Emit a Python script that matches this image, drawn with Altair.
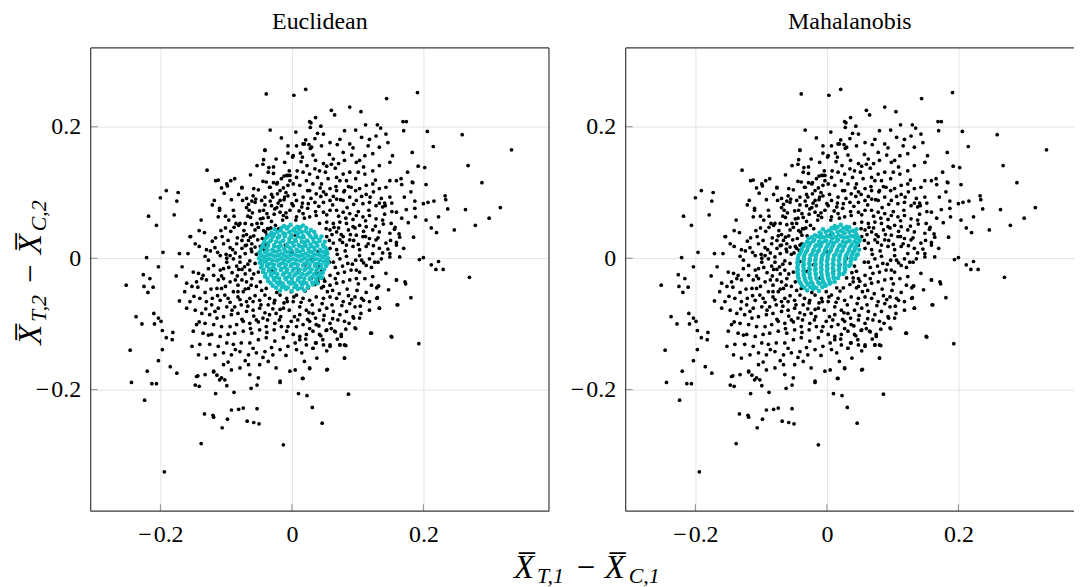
import altair as alt
import pandas as pd

# ---------------- data ----------------
tick_values = [-0.2, 0.0, 0.2]
panel_titles = ["Euclidean", "Mahalanobis"]

black_pts = [
    (-0.039,0.250),(0.003,0.248),(0.021,0.257),(-0.033,0.195),(0.036,0.214),(0.027,0.208),(0.028,0.199),
    (0.006,0.192),(-0.041,0.165),(-0.006,0.171),(-0.044,0.143),(-0.035,0.138),(-0.028,0.139),(-0.129,0.134),
    (-0.116,0.118),(-0.112,0.119),(-0.093,0.118),(-0.099,0.113),(-0.098,0.110),(-0.191,0.103),(-0.200,0.092),
    (-0.173,0.100),(-0.175,0.087),(-0.218,0.064),(-0.206,0.050),(-0.179,0.066),(-0.221,0.001),(-0.203,-0.013),
    (-0.196,0.009),(-0.171,0.007),(-0.155,0.033),(-0.141,0.042),(-0.133,0.039),(-0.147,0.022),(-0.118,0.088),
    (-0.110,0.076),(-0.112,0.063),(-0.103,0.099),(-0.088,0.064),(-0.076,0.108),(-0.075,0.088),(-0.058,0.106),
    (-0.044,0.117),(-0.034,0.108),(-0.028,0.115),(-0.022,0.115),(-0.012,0.125),(-0.006,0.126),(-0.003,0.126),
    (0.001,0.154),(0.013,0.160),(0.016,0.154),(0.014,0.147),(0.019,0.174),(0.026,0.173),(0.028,0.167),
    (0.035,0.182),(0.032,0.157),
    (0.144,0.243),(0.191,0.252),(0.060,0.225),(0.065,0.218),(0.088,0.230),(0.105,0.223),(0.029,0.206),
    (0.039,0.190),(0.048,0.189),(0.080,0.194),(0.097,0.195),(0.112,0.203),(0.130,0.203),(0.135,0.198),
    (0.169,0.208),(0.174,0.208),(0.170,0.194),(0.206,0.193),(0.259,0.188),(0.334,0.165),(0.215,0.170),
    (0.183,0.161),(0.192,0.140),(0.202,0.138),(0.268,0.141),(0.289,0.115),(0.184,0.115),(0.204,0.112),
    (0.233,0.095),(0.234,0.089),(0.216,0.087),(0.237,0.075),(0.207,0.085),(0.200,0.083),(0.317,0.077),
    (0.300,0.061),(0.279,0.050),(0.264,0.074),(0.247,0.043),(0.223,0.063),(0.212,0.046),(0.220,0.039),
    (0.204,0.058),(0.187,0.087),(0.187,0.076),(0.188,0.063),(0.174,0.074),(0.177,0.054),(0.185,0.032),
    (0.194,-0.002),(0.200,0.001),(0.212,-0.010),(0.223,-0.005),(0.230,-0.017),(0.219,-0.017),(0.270,-0.029),
    (0.166,0.121),(0.167,0.112),(0.183,0.116),(0.149,0.118),(0.141,0.084),(0.142,0.080),(0.152,0.071),
    (0.156,0.044),(0.163,0.037),(0.159,0.024),(0.170,0.015),(0.150,0.027),(0.157,0.047),
    (-0.226,-0.025),(-0.216,-0.031),(-0.225,-0.043),(-0.211,-0.044),(-0.219,-0.052),(-0.252,-0.041),
    (-0.176,-0.027),(-0.171,-0.065),(-0.237,-0.089),(-0.228,-0.100),(-0.210,-0.084),(-0.203,-0.091),
    (-0.199,-0.096),(-0.209,-0.100),(-0.197,-0.110),(-0.246,-0.140),(-0.244,-0.189),(-0.213,-0.191),
    (-0.206,-0.191),(-0.224,-0.216),(-0.220,-0.172),(-0.203,-0.156),(-0.197,-0.139),(-0.191,-0.121),
    (-0.182,-0.124),(-0.181,-0.113),(-0.185,-0.165),(-0.175,-0.175),(-0.194,-0.325),(-0.138,-0.282),
    (-0.013,-0.284),(-0.133,-0.237),(-0.120,-0.239),(-0.119,-0.242),(-0.098,-0.245),(-0.106,-0.258),
    (-0.092,-0.231),(-0.081,-0.230),(-0.074,-0.228),(-0.053,-0.229),(-0.068,-0.248),(-0.058,-0.250),
    (-0.050,-0.252),(-0.116,-0.206),(-0.088,-0.204),(-0.062,-0.198),(-0.053,-0.193),(-0.147,-0.193),
    (-0.141,-0.195),(-0.143,-0.179),(-0.119,-0.173),(-0.114,-0.178),(-0.110,-0.185),(-0.102,-0.185),
    (-0.099,-0.194),(-0.018,-0.189),(0.010,-0.206),(0.023,-0.209),(0.031,-0.227),(0.016,-0.183),
    (0.027,-0.168),
    (0.193,-0.130),(0.152,-0.120),(0.120,-0.114),(0.160,-0.071),(0.133,-0.076),(0.130,-0.060),(0.181,-0.060),
    (0.159,-0.033),(0.172,-0.036),(0.173,-0.039),(0.129,-0.045),(0.132,-0.042),(0.086,-0.207),(0.046,-0.251),
    (0.054,-0.169),(0.080,-0.152),(0.082,-0.133),(0.073,-0.132),(0.058,-0.134),(0.097,-0.107),(0.082,-0.108),
    (0.105,-0.084),(0.094,-0.091),(0.075,-0.119),(0.066,-0.112),(0.060,-0.107),(0.052,-0.110),(0.047,-0.124),
    (0.044,-0.118),(0.036,-0.129),(0.032,-0.137),(0.021,-0.123),
    (-0.110,0.073),(-0.092,0.089),(-0.076,0.107),(-0.085,0.053),(-0.079,0.053),(-0.081,0.050),(-0.101,0.046),
    (-0.108,0.042),(-0.106,0.033),(-0.154,0.033),(-0.130,0.013),(-0.124,0.011),(-0.117,0.016),(-0.113,0.009),
    (-0.132,0.003),(-0.100,0.006),(-0.094,0.016),(-0.090,0.013),(-0.086,0.008),(-0.099,0.000),
    (-0.073,0.042),(-0.069,0.036),(-0.063,0.032),(-0.066,0.027),(-0.061,0.022),(-0.076,0.027),(-0.056,0.043),
    (-0.051,0.047),(-0.071,0.053),(-0.067,0.064),(-0.063,0.062),(-0.060,0.069),(-0.065,0.073),(-0.069,0.077),
    (-0.066,0.082),(-0.061,0.087),(-0.056,0.085),(-0.055,0.090),(-0.059,0.095),(-0.046,0.088),(-0.041,0.093),
    (-0.043,0.073),(-0.038,0.068),(-0.036,0.062),(-0.048,0.060),(-0.053,0.053),(-0.046,0.053),(-0.043,0.042),
    (-0.037,0.045),(-0.038,0.035),
    (-0.033,0.087),(-0.029,0.093),(-0.022,0.098),(-0.018,0.103),(-0.013,0.107),(-0.009,0.100),(-0.006,0.111),
    (-0.003,0.118),(-0.008,0.126),(-0.004,0.133),(-0.011,0.146),(-0.028,0.129),(-0.036,0.131),(-0.043,0.150),
    (-0.041,0.164),(-0.006,0.160),(0.002,0.156),(-0.023,0.113),(-0.033,0.108),(-0.039,0.116),(-0.031,0.080),
    (-0.023,0.077),(-0.018,0.070),(-0.013,0.065),(-0.008,0.062),(-0.003,0.073),(0.000,0.083),(-0.018,0.088),
    (-0.016,0.080),(-0.011,0.093),(-0.006,0.095),
    (-0.079,0.002),(-0.071,0.007),(-0.061,0.010),(-0.054,0.006),(-0.046,0.015),(-0.041,0.020),(-0.056,0.017),
    (-0.069,0.020),(-0.084,0.022),(-0.076,0.015),
    (0.017,0.174),(0.021,0.180),(0.007,0.171),(0.030,0.169),(0.045,0.171),(0.058,0.176),(0.073,0.181),
    (0.088,0.174),(0.093,0.168),(0.106,0.184),(0.118,0.181),(0.128,0.186),(0.143,0.189),(0.146,0.176),
    (0.133,0.169),(0.123,0.159),(0.111,0.156),(0.098,0.146),(0.103,0.149),(0.078,0.161),(0.080,0.149),
    (0.063,0.151),(0.048,0.144),(0.053,0.140),(0.060,0.143),(0.035,0.136),(0.027,0.128),(0.042,0.133),
    (0.017,0.131),(0.007,0.123),(0.002,0.113),(0.012,0.111),(0.022,0.118),(0.032,0.113),(0.045,0.113),
    (0.055,0.121),(0.068,0.123),(0.073,0.118),(0.078,0.128),(0.088,0.131),(0.101,0.131),(0.111,0.128),
    (0.123,0.133),(0.133,0.141),(0.149,0.146),(0.159,0.118),(0.143,0.108),(0.133,0.106),(0.123,0.113),
    (0.113,0.111),(0.103,0.106),(0.090,0.108),(0.080,0.103),(0.068,0.103),(0.058,0.106),(0.048,0.101),
    (0.037,0.098),(0.027,0.103),(0.017,0.093),(0.007,0.088),(0.002,0.080),(0.015,0.078),(0.025,0.083),
    (0.035,0.085),(0.048,0.085),(0.058,0.088),(0.068,0.090),(0.078,0.088),(0.088,0.093),(0.098,0.088),
    (0.108,0.083),(0.118,0.085),(0.128,0.080),(0.138,0.078),(0.149,0.093),(0.159,0.070),(0.151,0.053),
    (0.138,0.058),(0.128,0.060),(0.118,0.065),(0.108,0.063),(0.098,0.065),(0.088,0.068),(0.078,0.070),
    (0.068,0.073),(0.058,0.073),(0.048,0.070),(0.037,0.065),(0.027,0.063),(0.017,0.068),(0.007,0.063),
    (0.042,0.053),(0.053,0.055),(0.063,0.053),(0.073,0.055),(0.083,0.053),(0.093,0.048),(0.103,0.050),
    (0.113,0.048),(0.123,0.043),(0.133,0.040),(0.149,0.038),(0.164,0.032),(0.159,0.020),(0.143,0.023),
    (0.128,0.028),(0.118,0.030),(0.108,0.033),(0.098,0.035),(0.088,0.028),(0.078,0.033),(0.068,0.040),
    (0.058,0.043),(0.053,0.033),(0.063,0.023),(0.073,0.028),(0.083,0.020),(0.093,0.018),(0.103,0.013),
    (0.113,0.018),(0.123,0.007),(0.133,0.015),(0.149,0.007),(0.164,0.002),(0.068,0.013),(0.058,0.015),
    (0.048,0.020),
    (-0.150,-0.021),(-0.142,-0.023),(-0.135,-0.026),(-0.160,-0.038),(-0.152,-0.043),(-0.145,-0.036),
    (-0.137,-0.031),(-0.130,-0.033),(-0.119,-0.026),(-0.127,-0.016),(-0.119,-0.011),(-0.109,-0.018),
    (-0.104,-0.016),(-0.099,-0.006),(-0.089,-0.001),(-0.079,-0.006),(-0.072,-0.013),(-0.064,-0.018),
    (-0.056,-0.008),(-0.051,-0.021),(-0.061,-0.031),(-0.069,-0.036),(-0.082,-0.041),(-0.094,-0.036),
    (-0.104,-0.031),(-0.112,-0.033),(-0.107,-0.046),(-0.102,-0.056),(-0.109,-0.064),(-0.097,-0.061),
    (-0.089,-0.051),(-0.082,-0.059),(-0.074,-0.051),(-0.066,-0.046),(-0.054,-0.043),(-0.046,-0.049),
    (-0.039,-0.046),(-0.041,-0.056),(-0.049,-0.064),(-0.059,-0.066),(-0.069,-0.066),(-0.077,-0.071),
    (-0.087,-0.074),(-0.099,-0.074),(-0.112,-0.076),(-0.122,-0.071),(-0.130,-0.066),(-0.140,-0.061),
    (-0.155,-0.066),(-0.160,-0.076),(-0.147,-0.079),(-0.137,-0.084),(-0.125,-0.086),(-0.114,-0.091),
    (-0.104,-0.089),(-0.092,-0.086),(-0.082,-0.084),(-0.069,-0.081),(-0.059,-0.079),(-0.049,-0.076),
    (-0.036,-0.071),(-0.026,-0.064),(-0.018,-0.056),(-0.008,-0.061),(-0.001,-0.051),(-0.013,-0.076),
    (-0.024,-0.084),(-0.034,-0.086),(-0.044,-0.091),(-0.054,-0.094),(-0.064,-0.099),(-0.074,-0.096),
    (-0.084,-0.101),(-0.094,-0.104),(-0.107,-0.104),(-0.119,-0.101),(-0.132,-0.099),(-0.145,-0.101),
    (-0.150,-0.111),(-0.135,-0.114),(-0.122,-0.116),(-0.109,-0.119),(-0.097,-0.116),(-0.087,-0.114),
    (-0.074,-0.111),(-0.061,-0.114),(-0.049,-0.109),(-0.039,-0.104),(-0.026,-0.099),(-0.016,-0.104),
    (-0.008,-0.111),(-0.001,-0.096),(-0.013,-0.121),(-0.026,-0.126),(-0.039,-0.121),(-0.051,-0.124),
    (-0.064,-0.129),(-0.077,-0.129),(-0.089,-0.131),(-0.099,-0.129),(-0.112,-0.134),(-0.125,-0.131),
    (-0.140,-0.131),(-0.152,-0.134),(-0.142,-0.147),(-0.130,-0.152),(-0.117,-0.147),(-0.104,-0.144),
    (-0.092,-0.147),(-0.079,-0.142),(-0.066,-0.147),(-0.054,-0.144),(-0.041,-0.142),(-0.029,-0.147),
    (-0.018,-0.139),(-0.006,-0.134),(-0.036,-0.157),(-0.049,-0.162),(-0.066,-0.162),(-0.079,-0.167),
    (-0.092,-0.170),(-0.104,-0.162),(-0.119,-0.172),(-0.132,-0.177),(-0.145,-0.180),(-0.107,-0.182),
    (-0.064,-0.177),(-0.051,-0.182),(-0.018,-0.187),(-0.003,-0.172),(-0.024,-0.167),
    (0.063,-0.006),(0.073,-0.001),(0.085,-0.008),(0.098,-0.018),(0.106,-0.003),(0.118,-0.001),(0.126,-0.006),
    (0.136,-0.001),(0.149,0.002),(0.113,-0.011),(0.103,-0.021),(0.090,-0.018),(0.080,-0.021),(0.070,-0.023),
    (0.058,-0.026),(0.048,-0.031),(0.040,-0.036),(0.048,-0.043),(0.058,-0.041),(0.068,-0.038),(0.078,-0.036),
    (0.088,-0.033),(0.098,-0.031),(0.111,-0.031),(0.123,-0.028),(0.131,-0.043),(0.143,-0.023),(0.159,-0.033),
    (0.129,-0.061),(0.133,-0.076),(0.161,-0.071),(0.118,-0.066),(0.106,-0.061),(0.096,-0.059),(0.088,-0.069),
    (0.078,-0.066),(0.068,-0.061),(0.058,-0.059),(0.048,-0.061),(0.037,-0.059),(0.027,-0.064),(0.017,-0.061),
    (0.007,-0.056),(0.002,-0.066),(0.012,-0.074),(0.022,-0.079),(0.032,-0.084),(0.042,-0.079),(0.053,-0.076),
    (0.063,-0.081),(0.073,-0.086),(0.083,-0.081),(0.096,-0.074),(0.103,-0.091),(0.093,-0.089),(0.080,-0.096),
    (0.070,-0.094),(0.058,-0.099),(0.048,-0.094),(0.037,-0.101),(0.027,-0.096),(0.017,-0.101),(0.007,-0.104),
    (0.002,-0.116),(0.012,-0.119),(0.022,-0.116),(0.032,-0.111),(0.042,-0.116),(0.053,-0.109),(0.065,-0.111),
    (0.075,-0.116),(0.096,-0.106),(0.121,-0.114),(0.151,-0.119),(0.058,-0.132),(0.048,-0.132),(0.037,-0.129),
    (0.032,-0.137),(0.022,-0.132),(0.012,-0.124),(0.005,-0.129),(0.007,-0.139),(0.015,-0.144),(0.073,-0.132),
    (0.080,-0.132),(0.080,-0.152),(0.027,-0.167),(0.053,-0.170),(0.005,-0.170),(0.017,-0.183),
    (-0.040,0.040),(-0.032,0.046),(-0.045,0.030),(-0.025,0.050),(-0.038,0.022),(-0.048,0.018),(-0.030,0.034),
    (-0.050,0.008),(-0.042,0.012),(-0.020,0.045),(-0.035,0.045),(0.040,-0.030),(0.045,-0.020),(0.035,-0.040),
    (0.050,-0.035),(0.025,-0.045),(0.030,-0.030),(0.045,-0.045),(0.020,-0.050),(0.042,-0.012),(0.038,-0.022),
    (0.015,-0.045),(0.000,0.010),(-0.020,-0.010),(0.020,0.020),(0.010,-0.020),(-0.010,0.020),(0.030,0.000),
    (-0.030,-0.020),(0.020,-0.010),(-0.010,-0.030),(0.005,0.035),(-0.040,-0.005),(0.040,0.010),
    (-0.083,0.031),(-0.071,0.019),(-0.097,0.027),(-0.058,0.034),(-0.049,0.072),(-0.027,0.067),(-0.014,0.058),
    (-0.021,0.084),(-0.031,0.097),(-0.012,0.089),(0.004,0.097),(0.011,0.072),(0.024,0.076),(0.019,0.061),
    (0.036,0.071),(0.044,0.094),(0.053,0.066),(0.062,0.081),(0.071,0.064),(0.084,0.077),(0.093,0.059),
    (0.101,0.071),(0.112,0.057),(0.119,0.093),(0.127,0.049),(0.109,0.041),(0.086,0.043),(0.075,0.036),
    (0.064,0.047),(0.057,0.027),(0.069,0.006),(0.081,0.011),(0.094,0.027),(0.103,0.004),(0.116,0.022),
    (0.131,0.031),(0.139,0.052),(0.121,-0.014),(0.092,-0.009),(0.077,-0.012),(0.066,-0.031),(0.084,-0.047),
    (0.101,-0.039),(0.113,-0.052),(0.091,-0.063),(0.072,-0.054),(0.061,-0.071),(0.049,-0.087),(0.031,-0.071),
    (0.024,-0.093),(0.012,-0.086),(-0.004,-0.079),(-0.017,-0.089),(-0.029,-0.077),(-0.041,-0.083),
    (-0.034,-0.061),(-0.023,-0.052),(-0.012,-0.068),(0.003,-0.059),(-0.056,-0.057),(-0.067,-0.073),
    (-0.079,-0.063),(-0.091,-0.079),(-0.076,-0.093),(-0.063,-0.107),(-0.051,-0.097),(-0.038,-0.113),
    (-0.027,-0.109),(-0.019,-0.094),(-0.006,-0.104),(0.009,-0.094),(0.027,-0.107),(0.041,-0.103),
    (0.062,-0.092),(-0.101,-0.043),(-0.113,-0.057),(-0.123,-0.047),(-0.117,-0.081),(-0.131,-0.077),
    (-0.091,-0.022),(-0.083,-0.027),(-0.071,-0.024),(-0.064,-0.004),(-0.076,-0.017),(-0.109,0.004),
    (-0.121,0.026),(-0.093,0.041),(-0.061,0.051),(-0.089,0.073),(-0.101,0.064),(-0.069,0.091),(-0.081,0.097),
    (-0.051,0.104),(-0.041,0.081),(-0.016,0.121),(0.008,0.133),(0.023,0.141),(0.039,0.123),(0.051,0.131),
    (0.066,0.137),(0.083,0.118),(0.097,0.121),(0.109,0.139),(0.091,0.157),(0.071,0.144),(0.057,0.158),
    (0.036,0.149),(0.024,0.103),(0.043,0.107),(0.063,0.094),(0.079,0.101),(0.097,0.103),(0.113,0.097),
    (0.127,0.119),(0.136,0.091),(0.141,0.067),(0.152,0.084),(0.167,0.061),(0.146,0.014),(0.131,-0.006),
    (0.147,-0.048),(0.118,-0.079),(0.104,-0.073),(0.087,-0.099),(0.069,-0.123),(0.053,-0.141),(0.038,-0.152),
    (0.019,-0.157),(-0.009,-0.148),(-0.031,-0.136),(-0.044,-0.151),(-0.059,-0.137),(-0.071,-0.156),
    (-0.086,-0.139),(-0.097,-0.158),(-0.127,-0.117),(-0.141,-0.097),(-0.149,-0.058),(-0.163,-0.051),
    (-0.167,-0.013),(-0.158,0.007),(-0.141,0.018),(-0.127,-0.003),(-0.138,0.058),(-0.121,0.081),
    (-0.107,0.107),(-0.087,0.121),(-0.063,0.127),(-0.053,0.141),(-0.024,0.151),(-0.016,0.183),(0.044,0.201),
    (0.069,0.173),(0.116,0.171),(0.153,0.156),(0.176,0.131),(0.171,0.093),(0.181,0.101),
    (-0.062,0.014),(-0.074,0.034),(-0.088,0.047),(-0.096,0.058),(-0.052,0.028),(-0.044,0.061),(-0.031,0.056),
    (-0.026,0.075),(-0.009,0.069),(0.006,0.058),(0.016,0.084),(0.029,0.091),(0.041,0.079),(0.052,0.097),
    (0.067,0.109),(0.074,0.089),(0.086,0.109),(0.094,0.082),(0.106,0.094),(0.117,0.073),(0.124,0.101),
    (0.133,0.084),(0.096,0.046),(0.082,0.061),(0.071,0.046),(0.061,0.036),(0.052,0.045),(0.077,0.024),
    (0.089,0.036),(0.101,0.021),(0.112,0.033),(0.124,0.019),(0.138,0.008),(0.109,-0.007),(0.097,-0.003),
    (0.083,0.003),(0.066,-0.014),(0.057,-0.006),(0.062,-0.049),(0.054,-0.051),(0.076,-0.072),(0.086,-0.057),
    (0.099,-0.049),(0.109,-0.064),(0.121,-0.041),(0.036,-0.091),(0.046,-0.069),(0.026,-0.083),(0.014,-0.067),
    (0.004,-0.089),(-0.007,-0.066),(-0.018,-0.078),(-0.027,-0.068),(-0.037,-0.094),(-0.047,-0.071),
    (-0.058,-0.088),(-0.064,-0.061),(-0.071,-0.047),(-0.082,-0.051),(-0.094,-0.067),(-0.086,-0.033),
    (-0.076,-0.033),(-0.058,-0.024),(-0.062,-0.041),(-0.048,-0.036),(-0.067,-0.009),(-0.084,-0.012),
    (-0.096,-0.014),(-0.107,-0.027),(-0.114,-0.046),(-0.121,-0.061),(-0.132,-0.052),(-0.143,-0.044),
    (-0.116,0.031),(-0.104,0.022),(-0.094,0.004),(-0.081,-0.017),
]

euclid_pts = [
    (-0.012,0.049),(-0.002,0.051),(0.008,0.048),(0.017,0.050),
    (-0.026,0.044),(-0.017,0.042),(-0.008,0.045),(0.001,0.042),(0.011,0.044),(0.021,0.041),(0.029,0.043),
    (-0.035,0.035),(-0.027,0.037),(-0.019,0.034),(-0.010,0.037),(-0.001,0.035),(0.009,0.038),(0.017,0.034),
    (0.026,0.037),(0.036,0.035),
    (-0.040,0.030),(-0.031,0.028),(-0.022,0.031),(-0.013,0.027),(-0.004,0.030),(0.005,0.028),(0.014,0.031),
    (0.023,0.027),(0.032,0.030),(0.042,0.028),
    (-0.044,0.021),(-0.036,0.023),(-0.027,0.020),(-0.018,0.024),(-0.008,0.021),(0.001,0.023),(0.010,0.020),
    (0.019,0.024),(0.028,0.021),(0.037,0.023),(0.047,0.020),
    (-0.047,0.014),(-0.039,0.016),(-0.030,0.013),(-0.021,0.017),(-0.012,0.014),(-0.003,0.016),(0.007,0.013),
    (0.016,0.017),(0.025,0.014),(0.034,0.016),(0.043,0.013),(0.051,0.016),
    (-0.049,0.007),(-0.041,0.009),(-0.033,0.006),(-0.024,0.010),(-0.015,0.007),(-0.006,0.009),(0.003,0.006),
    (0.012,0.010),(0.021,0.007),(0.030,0.009),(0.039,0.006),(0.048,0.009),(0.054,0.007),
    (-0.050,0.000),(-0.042,0.002),(-0.034,-0.001),(-0.025,0.003),(-0.016,0.000),(-0.007,0.002),(0.002,-0.001),
    (0.011,0.003),(0.020,0.000),(0.029,0.002),(0.038,-0.001),(0.047,0.002),(0.055,0.000),
    (-0.049,-0.007),(-0.041,-0.005),(-0.032,-0.008),(-0.023,-0.004),(-0.014,-0.007),(-0.005,-0.005),
    (0.004,-0.008),(0.013,-0.004),(0.022,-0.007),(0.031,-0.005),(0.040,-0.008),(0.049,-0.005),(0.055,-0.007),
    (-0.047,-0.014),(-0.038,-0.012),(-0.029,-0.015),(-0.020,-0.011),(-0.011,-0.014),(-0.002,-0.012),
    (0.008,-0.015),(0.017,-0.011),(0.026,-0.014),(0.035,-0.012),(0.044,-0.015),(0.052,-0.012),
    (-0.044,-0.021),(-0.035,-0.019),(-0.026,-0.022),(-0.017,-0.018),(-0.008,-0.021),(0.001,-0.019),
    (0.010,-0.022),(0.019,-0.018),(0.028,-0.021),(0.037,-0.019),(0.047,-0.022),
    (-0.041,-0.028),(-0.032,-0.026),(-0.023,-0.029),(-0.014,-0.025),(-0.005,-0.028),(0.004,-0.026),
    (0.013,-0.029),(0.022,-0.025),(0.031,-0.028),(0.040,-0.026),(0.046,-0.029),
    (-0.036,-0.035),(-0.027,-0.033),(-0.018,-0.036),(-0.009,-0.032),(0.000,-0.035),(0.009,-0.033),
    (0.018,-0.036),(0.027,-0.032),(0.037,-0.035),
    (-0.029,-0.042),(-0.020,-0.040),(-0.011,-0.043),(-0.002,-0.039),(0.007,-0.042),(0.016,-0.040),
    (0.025,-0.043),(0.032,-0.040),
    (-0.018,-0.049),(-0.009,-0.047),(0.000,-0.050),(0.009,-0.047),(0.019,-0.049),
    (-0.016,0.046),(-0.006,0.047),(0.004,0.045),(0.013,0.047),(0.022,0.046),
    (-0.031,0.039),(-0.022,0.040),(-0.013,0.038),(-0.004,0.040),(0.006,0.039),(0.015,0.040),(0.025,0.038),
    (0.034,0.040),
    (-0.038,0.032),(-0.029,0.033),(-0.020,0.032),(-0.011,0.033),(-0.001,0.032),(0.009,0.033),(0.018,0.032),
    (0.028,0.033),(0.037,0.032),(0.045,0.033),
    (-0.042,0.025),(-0.033,0.026),(-0.024,0.025),(-0.014,0.026),(-0.004,0.025),(0.006,0.026),(0.015,0.025),
    (0.024,0.026),(0.033,0.025),(0.042,0.026),(0.050,0.025),
    (-0.045,0.018),(-0.036,0.019),(-0.027,0.018),(-0.017,0.019),(-0.007,0.018),(0.003,0.019),(0.012,0.018),
    (0.021,0.019),(0.030,0.018),(0.039,0.019),(0.048,0.018),
    (-0.048,0.011),(-0.037,0.012),(-0.028,0.011),(-0.019,0.012),(-0.010,0.011),(-0.001,0.012),(0.008,0.011),
    (0.017,0.012),(0.026,0.011),(0.035,0.012),(0.044,0.011),(0.053,0.012),
    (-0.046,0.004),(-0.037,0.005),(-0.029,0.004),(-0.020,0.005),(-0.011,0.004),(-0.002,0.005),(0.007,0.004),
    (0.016,0.005),(0.025,0.004),(0.034,0.005),(0.043,0.004),(0.051,0.005),
    (-0.046,-0.003),(-0.038,-0.002),(-0.029,-0.003),(-0.020,-0.002),(-0.011,-0.003),(-0.002,-0.002),
    (0.007,-0.003),(0.016,-0.002),(0.025,-0.003),(0.034,-0.002),(0.043,-0.003),(0.052,-0.002),
    (-0.045,-0.010),(-0.036,-0.009),(-0.027,-0.010),(-0.018,-0.009),(-0.009,-0.010),(0.000,-0.009),
    (0.009,-0.010),(0.018,-0.009),(0.027,-0.010),(0.036,-0.009),(0.045,-0.010),(0.053,-0.009),
    (-0.043,-0.017),(-0.034,-0.016),(-0.025,-0.017),(-0.016,-0.016),(-0.007,-0.017),(0.003,-0.016),
    (0.012,-0.017),(0.021,-0.016),(0.030,-0.017),(0.039,-0.016),(0.049,-0.017),
    (-0.040,-0.024),(-0.031,-0.023),(-0.022,-0.024),(-0.012,-0.023),(-0.003,-0.024),(0.007,-0.023),
    (0.016,-0.024),(0.025,-0.023),(0.034,-0.024),(0.043,-0.023),
    (-0.037,-0.031),(-0.028,-0.030),(-0.019,-0.031),(-0.010,-0.030),(0.000,-0.031),(0.010,-0.030),
    (0.019,-0.031),(0.028,-0.030),(0.037,-0.031),(0.044,-0.030),
    (-0.032,-0.038),(-0.023,-0.037),(-0.014,-0.038),(-0.005,-0.037),(0.004,-0.038),(0.013,-0.037),
    (0.022,-0.038),(0.031,-0.037),(0.039,-0.038),
    (-0.024,-0.045),(-0.015,-0.044),(-0.006,-0.045),(0.004,-0.044),(0.014,-0.045),(0.024,-0.044),
]

mahal_pts = [
    (0.012,0.049),(0.021,0.051),(0.030,0.048),
    (-0.006,0.044),(0.003,0.042),(0.012,0.045),(0.021,0.042),(0.030,0.044),(0.039,0.042),(0.045,0.044),
    (-0.018,0.035),(-0.009,0.037),(0.000,0.034),(0.009,0.037),(0.018,0.035),(0.027,0.038),(0.036,0.034),
    (0.045,0.036),
    (-0.028,0.030),(-0.019,0.028),(-0.010,0.031),(-0.001,0.027),(0.008,0.030),(0.017,0.028),(0.026,0.031),
    (0.035,0.027),(0.044,0.030),(0.050,0.028),
    (-0.034,0.021),(-0.025,0.023),(-0.016,0.020),(-0.007,0.024),(0.002,0.021),(0.011,0.023),(0.020,0.020),
    (0.029,0.024),(0.038,0.021),(0.047,0.023),
    (-0.038,0.014),(-0.029,0.016),(-0.020,0.013),(-0.011,0.017),(-0.002,0.014),(0.007,0.016),(0.016,0.013),
    (0.025,0.017),(0.034,0.014),(0.043,0.016),(0.049,0.013),
    (-0.041,0.007),(-0.032,0.009),(-0.023,0.006),(-0.014,0.010),(-0.005,0.007),(0.004,0.009),(0.013,0.006),
    (0.022,0.010),(0.031,0.007),(0.040,0.009),(0.047,0.006),
    (-0.044,0.000),(-0.035,0.002),(-0.026,-0.001),(-0.017,0.003),(-0.008,0.000),(0.001,0.002),(0.010,-0.001),
    (0.019,0.003),(0.028,0.000),(0.037,0.002),(0.043,-0.001),
    (-0.045,-0.007),(-0.036,-0.005),(-0.027,-0.008),(-0.018,-0.004),(-0.009,-0.007),(0.000,-0.005),
    (0.009,-0.008),(0.018,-0.004),(0.027,-0.007),(0.036,-0.005),
    (-0.045,-0.014),(-0.036,-0.012),(-0.027,-0.015),(-0.018,-0.011),(-0.009,-0.014),(0.000,-0.012),
    (0.009,-0.015),(0.018,-0.011),(0.027,-0.014),(0.034,-0.012),
    (-0.045,-0.021),(-0.036,-0.019),(-0.027,-0.022),(-0.018,-0.018),(-0.009,-0.021),(0.000,-0.019),
    (0.009,-0.022),(0.018,-0.018),(0.027,-0.021),
    (-0.044,-0.028),(-0.035,-0.026),(-0.026,-0.029),(-0.017,-0.025),(-0.008,-0.028),(0.001,-0.026),
    (0.010,-0.029),(0.019,-0.025),
    (-0.042,-0.035),(-0.033,-0.033),(-0.024,-0.036),(-0.015,-0.032),(-0.006,-0.035),(0.003,-0.033),
    (0.012,-0.036),
    (-0.038,-0.042),(-0.029,-0.040),(-0.020,-0.043),(-0.011,-0.039),(-0.002,-0.042),(0.004,-0.039),
    (-0.030,-0.049),(-0.021,-0.047),(-0.012,-0.050),
    (0.007,0.046),(0.016,0.047),(0.025,0.046),(0.034,0.047),
    (-0.011,0.039),(-0.002,0.040),(0.007,0.039),(0.016,0.040),(0.025,0.039),(0.034,0.040),(0.043,0.039),
    (-0.023,0.032),(-0.014,0.033),(-0.005,0.032),(0.004,0.033),(0.013,0.032),(0.022,0.033),(0.031,0.032),
    (0.040,0.033),(0.048,0.032),
    (-0.030,0.025),(-0.021,0.026),(-0.012,0.025),(-0.003,0.026),(0.006,0.025),(0.015,0.026),(0.024,0.025),
    (0.033,0.026),(0.042,0.025),(0.049,0.026),
    (-0.036,0.018),(-0.027,0.019),(-0.018,0.018),(-0.009,0.019),(0.000,0.018),(0.009,0.019),(0.018,0.018),
    (0.027,0.019),(0.036,0.018),(0.045,0.019),
    (-0.039,0.011),(-0.030,0.012),(-0.021,0.011),(-0.012,0.012),(-0.003,0.011),(0.006,0.012),(0.015,0.011),
    (0.024,0.012),(0.033,0.011),(0.042,0.012),
    (-0.043,0.004),(-0.034,0.005),(-0.025,0.004),(-0.016,0.005),(-0.007,0.004),(0.002,0.005),(0.011,0.004),
    (0.020,0.005),(0.029,0.004),(0.038,0.005),(0.045,0.004),
    (-0.044,-0.003),(-0.035,-0.002),(-0.026,-0.003),(-0.017,-0.002),(-0.008,-0.003),(0.001,-0.002),
    (0.010,-0.003),(0.019,-0.002),(0.028,-0.003),(0.037,-0.002),
    (-0.044,-0.010),(-0.035,-0.009),(-0.026,-0.010),(-0.017,-0.009),(-0.008,-0.010),(0.001,-0.009),
    (0.010,-0.010),(0.019,-0.009),(0.028,-0.010),(0.036,-0.009),
    (-0.044,-0.017),(-0.035,-0.016),(-0.026,-0.017),(-0.017,-0.016),(-0.008,-0.017),(0.001,-0.016),
    (0.010,-0.017),(0.019,-0.016),(0.028,-0.017),
    (-0.044,-0.024),(-0.035,-0.023),(-0.026,-0.024),(-0.017,-0.023),(-0.008,-0.024),(0.001,-0.023),
    (0.010,-0.024),(0.019,-0.023),(0.025,-0.024),
    (-0.043,-0.031),(-0.034,-0.030),(-0.025,-0.031),(-0.016,-0.030),(-0.007,-0.031),(0.002,-0.030),
    (0.011,-0.031),(0.017,-0.030),
    (-0.040,-0.038),(-0.031,-0.037),(-0.022,-0.038),(-0.013,-0.037),(-0.004,-0.038),(0.006,-0.037),
    (-0.034,-0.045),(-0.025,-0.044),(-0.016,-0.045),(-0.007,-0.044),
]

# ---------------- styling ----------------
H = 465
W_LEFT, W_RIGHT = 460, 450          # right panel runs to the page edge, as in the reference
PX_PER_UNIT = 660.0
FONT = "Liberation Serif"
CYAN = "#12bec2"
FRAME = "#3a3a3a"
XMIN = -0.306
YDOM = [-0.385, 0.320]
LABEL_EXPR = ("datum.value < 0 ? '\u2212\u200a' + format(-datum.value, '.1f') : "
              "format(datum.value, '.1~f')")

black_df = pd.DataFrame(black_pts, columns=["x", "y"])
ticks_df = pd.DataFrame({"x": tick_values, "y": tick_values})


def axis_x():
    return alt.Axis(values=tick_values, labelExpr=LABEL_EXPR, title=None, grid=True, gridColor="#e4e4e4",
                    gridWidth=1, ticks=False, domain=False, labelFont=FONT, labelFontSize=24,
                    labelColor="black", labelPadding=11, labelFlush=False)


def axis_y():
    return alt.Axis(values=tick_values, labelExpr=LABEL_EXPR, title=None, grid=True, gridColor="#e4e4e4",
                    gridWidth=1, ticks=False, domain=False, labelFont=FONT, labelFontSize=24,
                    labelColor="black", labelPadding=10, labelFlush=False)


ys = alt.Scale(domain=YDOM, nice=False, zero=False)


def text_piece(txt, x, y, size, italic=True, angle=0):
    return alt.Chart(pd.DataFrame({"t": [txt]})).mark_text(
        font=FONT, fontSize=size, fontStyle="italic" if italic else "normal", color="black",
        align="left", baseline="alphabetic", angle=angle
    ).encode(x=alt.value(x), y=alt.value(y), text="t:N")


def frame_rule(x, x2, y, y2):
    return alt.Chart(ticks_df.head(1)).mark_rule(color=FRAME, strokeWidth=1.2).encode(
        x=alt.value(x), x2=alt.value(x2), y=alt.value(y), y2=alt.value(y2))


def panel(cyan_pts, title, width, with_titles):
    xs = alt.Scale(domain=[XMIN, XMIN + width / PX_PER_UNIT], nice=False, zero=False)
    cdf = pd.DataFrame(cyan_pts, columns=["x", "y"])
    blk = alt.Chart(black_df).mark_circle(size=14, color="black", opacity=1).encode(
        x=alt.X("x:Q", scale=xs, axis=axis_x()), y=alt.Y("y:Q", scale=ys, axis=axis_y()))
    cy = alt.Chart(cdf).mark_circle(size=20, color=CYAN, opacity=1).encode(
        x=alt.X("x:Q", scale=xs, axis=axis_x()), y=alt.Y("y:Q", scale=ys, axis=axis_y()))
    xt = alt.Chart(ticks_df).mark_rule(color="#8c8c8c", strokeWidth=1).encode(
        x=alt.X("x:Q", scale=xs, axis=axis_x()), y=alt.value(H), y2=alt.value(H - 7))
    yt = alt.Chart(ticks_df).mark_rule(color="#8c8c8c", strokeWidth=1).encode(
        y=alt.Y("y:Q", scale=ys, axis=axis_y()), x=alt.value(0), x2=alt.value(7))
    layers = [blk, cy, xt, yt]
    # frame: left, top, bottom (+ right on the left panel only; the right one runs off the page)
    layers += [frame_rule(0, 0, 0, H), frame_rule(0, width, 0, 0), frame_rule(0, width, H, H)]
    if with_titles:
        layers.append(frame_rule(width, width, 0, H))
        OL = "X\u0305"
        # y-axis title (rotated)
        layers += [
            text_piece(OL, -50, 298, 33, angle=270),
            text_piece("T,2", -45, 275, 22, angle=270),
            text_piece("\u2212", -50, 236, 33, italic=False, angle=270),
            text_piece(OL, -50, 207, 33, angle=270),
            text_piece("C,2", -45, 184, 22, angle=270),
        ]
        # shared x-axis title
        layers += [
            text_piece(OL, 425, 532, 33),
            text_piece("T,1", 448, 537, 22),
            text_piece("\u2212", 488, 532, 33, italic=False),
            text_piece(OL, 516, 532, 33),
            text_piece("C,1", 540, 537, 22),
        ]
        # invisible anchor fixing the left page origin
        layers.append(alt.Chart(ticks_df.head(1)).mark_rule(opacity=0, strokeWidth=0.01).encode(
            x=alt.value(-82), x2=alt.value(-81), y=alt.value(200), y2=alt.value(201)))
    return alt.layer(*layers).properties(
        width=width, height=H,
        view=alt.ViewBackground(stroke="transparent"),
        title=alt.TitleParams(title, font=FONT, fontSize=24, fontWeight="normal", color="black",
                              anchor="middle", offset=-6, baseline="alphabetic"))


left = panel(euclid_pts, panel_titles[0], W_LEFT, True)
right = panel(mahal_pts, panel_titles[1], W_RIGHT, False)

chart = alt.HConcatChart(hconcat=[left, right], spacing=77, bounds="flush").properties(
    padding={"left": 0, "top": 0, "right": 0, "bottom": 0}
).configure_view(stroke="transparent")

chart.save("out.html", embed_options={"renderer": "svg", "actions": False})
